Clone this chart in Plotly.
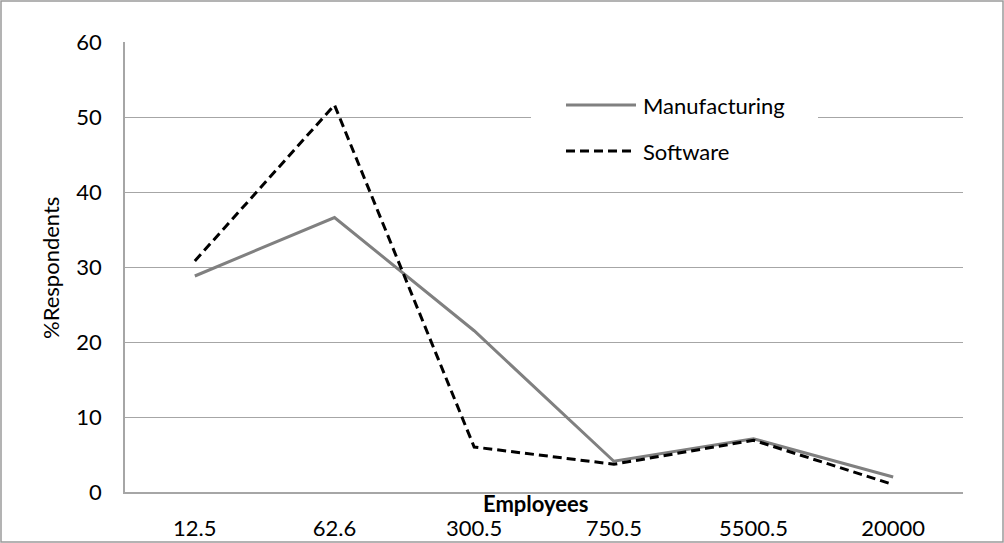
import plotly.graph_objects as go

categories = ["12.5", "62.6", "300.5", "750.5", "5500.5", "20000"]
manufacturing = [28.8, 36.6, 21.5, 4.1, 7.1, 2.0]
software = [30.8, 51.6, 6.0, 3.7, 6.9, 1.0]
y_ticks = [0, 10, 20, 30, 40, 50, 60]

W, H = 1004, 543
L, R, T, B = 125, 41, 42, 51
pw, ph = W - L - R, H - T - B

def px(x):
    return (x - L) / pw

def py(y):
    return (H - B - y) / ph

FONT = "Lato"
FS = 22
fig = go.Figure()
fig.add_trace(go.Scatter(x=categories, y=manufacturing, mode="lines", name="Manufacturing",
                         line=dict(color="#808080", width=3)))
fig.add_trace(go.Scatter(x=categories, y=software, mode="lines", name="Software",
                         line=dict(color="#000000", width=3, dash="9px,5px")))

shapes = [
    # outer chart border
    dict(type="rect", xref="paper", yref="paper", x0=px(1), x1=px(1003), y0=py(542), y1=py(1),
         line=dict(color="#9a9a9a", width=1.5), fillcolor="rgba(0,0,0,0)", layer="above"),
    # legend background
    dict(type="rect", xref="paper", yref="paper", x0=px(531), x1=px(818), y0=py(185), y1=py(92),
         line=dict(width=0), fillcolor="white", layer="above"),
    dict(type="line", xref="paper", yref="paper", x0=px(566), x1=px(636), y0=py(105), y1=py(105),
         line=dict(color="#808080", width=3), layer="above"),
    dict(type="line", xref="paper", yref="paper", x0=px(566), x1=px(636), y0=py(151), y1=py(151),
         line=dict(color="#000000", width=3, dash="9px,5px"), layer="above"),
]

annotations = [
    dict(text="Manufacturing", xref="paper", yref="paper", x=px(641), y=py(105), xanchor="left",
         yanchor="middle", showarrow=False, font=dict(family=FONT, size=FS, color="black")),
    dict(text="Software", xref="paper", yref="paper", x=px(641), y=py(151), xanchor="left",
         yanchor="middle", showarrow=False, font=dict(family=FONT, size=FS, color="black")),
    dict(text="<b>Employees</b>", xref="paper", yref="paper", x=px(535), y=py(503), xanchor="center",
         yanchor="middle", showarrow=False, font=dict(family=FONT, size=FS, color="black")),
    dict(text="%Respondents", xref="paper", yref="paper", x=px(50), y=py(268), xanchor="center",
         yanchor="middle", showarrow=False, textangle=-90, font=dict(family=FONT, size=FS, color="black")),
]

fig.update_layout(
    width=W, height=H,
    margin=dict(l=L, r=R, t=T, b=B),
    paper_bgcolor="white", plot_bgcolor="white",
    showlegend=False,
    font=dict(family=FONT, size=FS, color="black"),
    shapes=shapes, annotations=annotations,
    xaxis=dict(type="category", categoryorder="array", categoryarray=categories,
               range=[-0.5, len(categories) - 0.5], automargin=False,
               showgrid=False, showline=True, linecolor="#a6a6a6", linewidth=1.5,
               ticks="", ticklabelstandoff=16, zeroline=False),
    yaxis=dict(range=[0, 60], tickvals=y_ticks, showgrid=True, gridcolor="#a6a6a6", gridwidth=1,
               automargin=False,
               showline=True, linecolor="#a6a6a6", linewidth=1.5, ticks="",
               ticklabelstandoff=17, zeroline=False),
)

fig.write_html("out.html", config={"displayModeBar": False},
               post_script="document.body.style.margin='0';document.body.style.overflow='hidden';")
